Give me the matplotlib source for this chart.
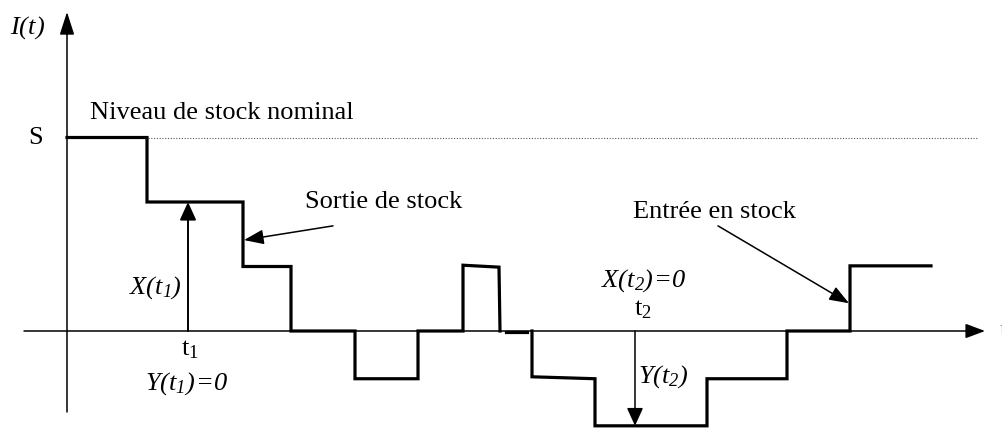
import matplotlib
matplotlib.use("Agg")
import matplotlib.pyplot as plt

plt.rcParams['mathtext.fontset'] = 'custom'
plt.rcParams['mathtext.rm'] = 'Liberation Serif:italic'
plt.rcParams['mathtext.it'] = 'Liberation Serif:italic'
plt.rcParams['mathtext.sf'] = 'Liberation Serif'
plt.rcParams['font.family'] = ['Liberation Serif', 'DejaVu Serif']

# ---- data (time units, stock level units with S = 3) ----
S_level = 3.0
path1_t = [0, 80, 80, 176, 176, 224, 224, 288, 288, 351, 351, 396, 396, 432, 433]
path1_I = [3.0, 3.0, 2.0, 2.0, 1.0, 1.0, 0.0, 0.0, -0.74, -0.74, 0.0, 0.0, 1.02, 0.99, 0.0]
gap_t = [439, 460]
gap_I = [-0.015, -0.015]
path2_t = [465, 465, 528, 528, 640, 640, 720, 720, 783, 783, 864]
path2_I = [0.0, -0.71, -0.74, -1.47, -1.47, -0.74, -0.74, 0.0, 0.0, 1.01, 1.01]
t1, t2 = 121, 568
X_t1 = 2.0
Y_t2 = -1.47

fig = plt.figure(figsize=(10.02, 4.28), dpi=100)
ax = fig.add_axes([0, 0, 1, 1])
ax.set_xlim(-67, 935)
ax.set_ylim((331 - 428) / 64.5, 331 / 64.5)
ax.axis('off')

lw_step = 2.3
lw_axis = 1.1

# axes with arrows
ax.annotate('', xy=(918, 0), xytext=(-43, 0),
            arrowprops=dict(arrowstyle='-|>,head_length=1.2,head_width=0.45',
                            mutation_scale=10, lw=lw_axis, color='black',
                            shrinkA=0, shrinkB=0))
ax.annotate('', xy=(0, 4.946), xytext=(0, -1.256),
            arrowprops=dict(arrowstyle='-|>,head_length=1.4,head_width=0.45',
                            mutation_scale=10, lw=lw_axis, color='black',
                            shrinkA=0, shrinkB=0))

# nominal level dotted line
ax.plot([81, 910], [S_level, S_level], color='#555555', lw=0.8, ls=(0, (1, 1.5)))

# step path
ax.plot(path1_t, path1_I, color='black', lw=lw_step, solid_joinstyle='miter')
ax.plot(gap_t, gap_I, color='black', lw=lw_step)
ax.plot(path2_t, path2_I, color='black', lw=lw_step, solid_joinstyle='miter')

# X(t1), Y(t2) arrows
ax.annotate('', xy=(t1, X_t1), xytext=(t1, 0),
            arrowprops=dict(arrowstyle='-|>,head_length=1.1,head_width=0.5',
                            mutation_scale=10, lw=1.4, color='black',
                            shrinkA=0, shrinkB=0))
ax.annotate('', xy=(t2, Y_t2), xytext=(t2, 0),
            arrowprops=dict(arrowstyle='-|>,head_length=1.1,head_width=0.5',
                            mutation_scale=10, lw=1.1, color='black',
                            shrinkA=0, shrinkB=0))

# pointer arrows
ax.annotate('', xy=(177, 1.41), xytext=(266, 1.63),
            arrowprops=dict(arrowstyle='-|>,head_length=1.2,head_width=0.45',
                            mutation_scale=10, lw=1.1, color='black',
                            shrinkA=0, shrinkB=0))
ax.annotate('', xy=(782, 0.43), xytext=(651, 1.63),
            arrowprops=dict(arrowstyle='-|>,head_length=1.2,head_width=0.45',
                            mutation_scale=10, lw=1.1, color='black',
                            shrinkA=0, shrinkB=0))

fs = 19
ax.text(-40, 4.71, r'$I(t)$', fontsize=fs, ha='center', va='center')
ax.text(-31, 3.0, 'S', fontsize=fs, ha='center', va='center')
ax.text(23, 3.38, 'Niveau de stock nominal', fontsize=fs, ha='left', va='center')
ax.text(238, 2.0, 'Sortie de stock', fontsize=fs, ha='left', va='center')
ax.text(88, 0.68, r'$X(t_1)$', fontsize=fs, ha='center', va='center')
ax.text(123, -0.29, r'$\mathsf{t_1}$', fontsize=fs, ha='center', va='center')
ax.text(120, -0.81, r'$Y(t_1)\!=\!0$', fontsize=fs, ha='center', va='center')
ax.text(566, 1.845, 'Entrée en stock', fontsize=fs, ha='left', va='center')
ax.text(577, 0.775, r'$X(t_2)\!=\!0$', fontsize=fs, ha='center', va='center')
ax.text(576, 0.33, r'$\mathsf{t_2}$', fontsize=fs, ha='center', va='center')
ax.text(571, -0.71, r'$Y(t_2)$', fontsize=fs, ha='left', va='center')
ax.text(932.5, 0.0, 't', fontsize=fs, ha='left', va='center', color='#888888')

fig.savefig('out.png', dpi=100)
